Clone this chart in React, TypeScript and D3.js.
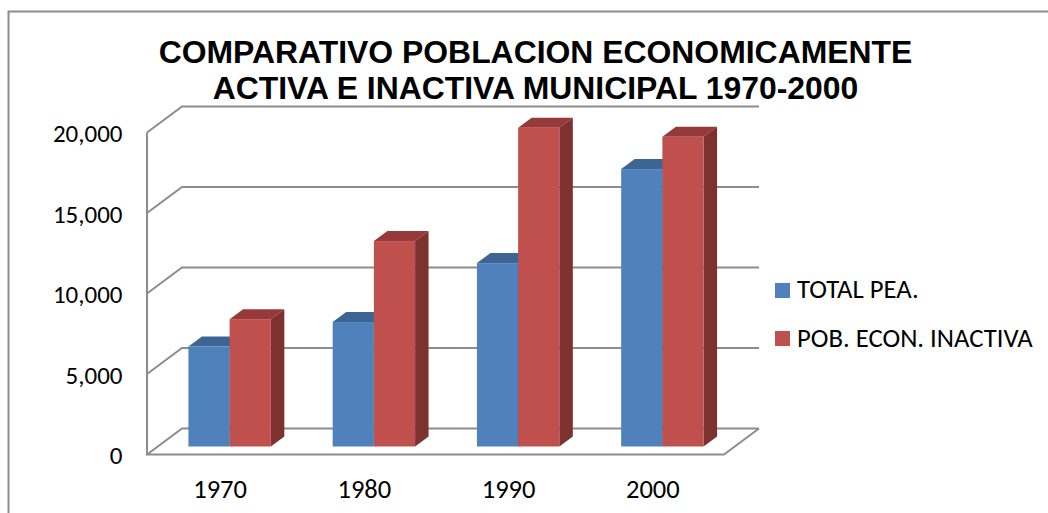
import React from "react";
import * as d3 from "d3";

const categories = ["1970", "1980", "1990", "2000"];
const seriesNames = ["TOTAL PEA.", "POB. ECON. INACTIVA"];
const totalPea = [6210, 7730, 11390, 17230];
const inactiva = [7910, 12760, 19800, 19240];
const ticks = [0, 5000, 10000, 15000, 20000];
const titleLines = ["COMPARATIVO POBLACION ECONOMICAMENTE", "ACTIVA E INACTIVA MUNICIPAL 1970-2000"];

const front = ["#4F81BD", "#C0504D"];
const top = ["#3D6593", "#953A38"];
const side = ["#325480", "#7D3230"];
const gridC = "#8C8C8C";
const sans = "Carlito, Calibri, 'Open Sans', 'Noto Sans', sans-serif";

const W = 1048, H = 513;
const floorX0 = 147, floorX1 = 724, y0 = 454.5, y1 = 132.5;
const wallDx = 35, wallDy = -26;
const baseDx = 10.5, baseDy = -8;
const depthDx = 13.5, depthDy = -10;

export default function App() {
  const x = d3.scaleBand<string>().domain(categories).range([floorX0, floorX1]);
  const y = d3.scaleLinear().domain([0, 20000]).range([y0, y1]);
  const barW = 41.2;
  const line = d3.line();
  const series = [totalPea, inactiva];
  return (
    <svg width={W} height={H} style={{ position: "fixed", left: 0, top: 0 }}>
      <rect width={W} height={H} fill="#fff" />
      <path d={`M8.5 ${H}V11.5H${W}`} fill="none" stroke="#8C8C8C" strokeWidth={2} />
      <g stroke={gridC} strokeWidth={2} fill="none">
        {ticks.map((t) => (
          <path key={t} d={line([[floorX0, y(t)], [floorX0 + wallDx, y(t) + wallDy], [floorX1 + wallDx, y(t) + wallDy]])!} />
        ))}
        <path d={line([[floorX0, y(20000)], [floorX0, y0], [floorX1, y0], [floorX1 + wallDx, y0 + wallDy]])!} />
      </g>
      {categories.map((c, i) => {
        const cx = x(c)! + x.bandwidth() / 2 + baseDx;
        return series.map((s, k) => {
          const l = cx - barW + k * barW;
          const r = l + barW;
          const b = y0 + baseDy;
          const t = y(s[i]) + baseDy;
          return (
            <g key={c + k}>
              <path d={line([[l, t], [l + depthDx, t + depthDy], [r + depthDx, t + depthDy], [r, t]])! + "Z"} fill={top[k]} />
              <path d={line([[r, t], [r + depthDx, t + depthDy], [r + depthDx, b + depthDy], [r, b]])! + "Z"} fill={side[k]} />
              <rect x={l} y={t} width={barW} height={b - t} fill={front[k]} />
            </g>
          );
        });
      })}
      <g fontFamily={sans} fontSize={25} fill="#000">
        {ticks.map((t) => (
          <text key={t} x={122.5} y={y(t) + 9.8} textAnchor="end">{d3.format(",")(t)}</text>
        ))}
      </g>
      <g fontFamily={sans} fontSize={26.5} fill="#000">
        {categories.map((c) => (
          <text key={c} x={x(c)! + x.bandwidth() / 2 + 1} y={497.5} textAnchor="middle">{c}</text>
        ))}
      </g>
      <g fontFamily="'Liberation Sans', Arial, sans-serif" fontSize={31.9} fontWeight={700} fill="#000" textAnchor="middle">
        {titleLines.map((s, i) => (
          <text key={s} x={535.5} y={62.5 + i * 36}>{s}</text>
        ))}
      </g>
      <g fontFamily={sans} fontSize={26.7} fill="#000">
        {seriesNames.map((s, k) => (
          <g key={s}>
            <rect x={775} y={283 + k * 48} width={15} height={15} fill={front[k]} />
            <text x={797} y={297.5 + k * 49}>{s}</text>
          </g>
        ))}
      </g>
    </svg>
  );
}
